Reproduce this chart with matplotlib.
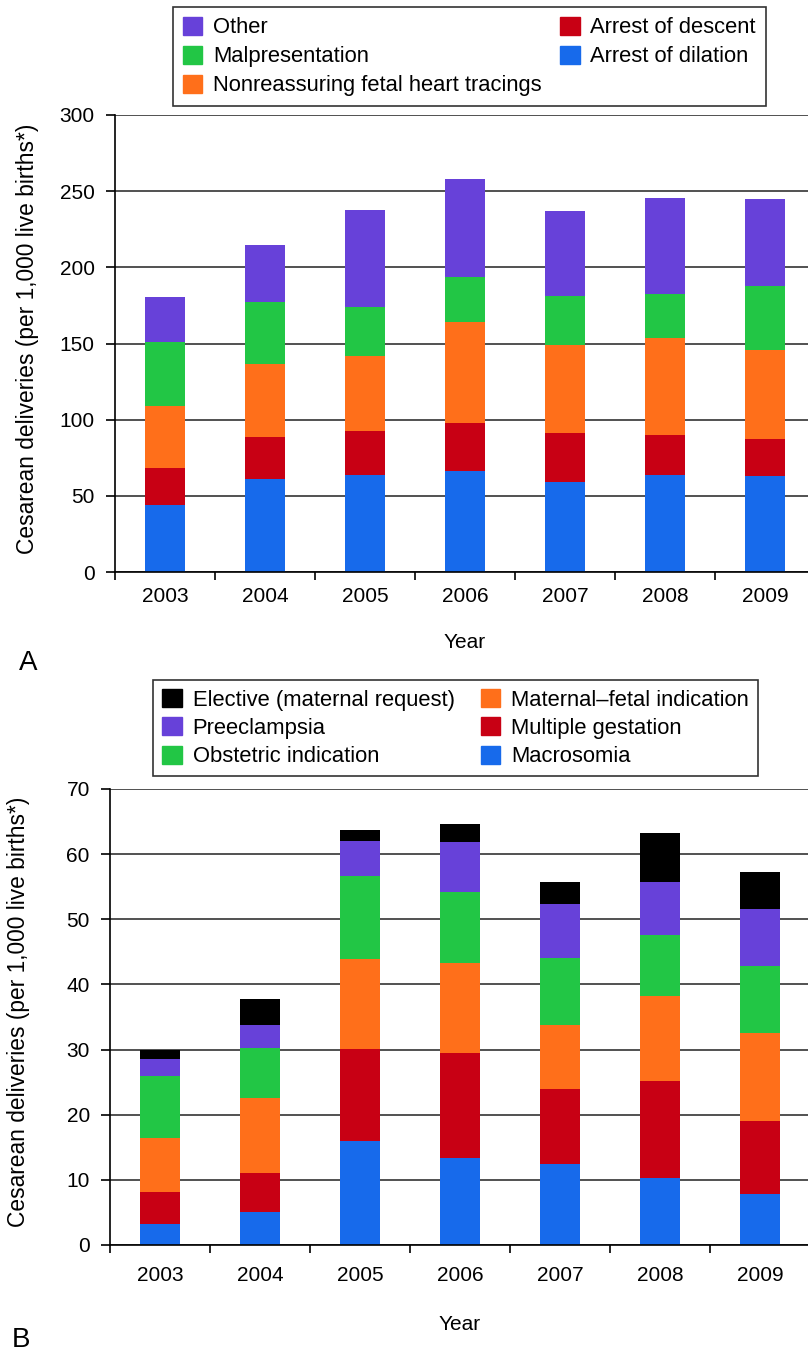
import numpy as np
import matplotlib
matplotlib.use('Agg')
import matplotlib.pyplot as plt
from matplotlib.patches import Patch

plt.rcParams['font.family'] = ['Liberation Sans', 'DejaVu Sans']

years = ['2003', '2004', '2005', '2006', '2007', '2008', '2009']

# Panel A – indications (per 1,000 live births)
arrest_dilation = [44.0, 61.3, 63.5, 66.3, 59.3, 63.5, 63.0]
arrest_descent = [24.5, 27.3, 28.8, 31.5, 31.7, 26.7, 24.1]
nonreassuring = [40.3, 47.9, 49.7, 66.5, 57.8, 63.6, 58.9]
malpresentation = [42.4, 40.5, 32.2, 29.4, 32.4, 28.7, 41.7]
other = [29.5, 37.7, 63.7, 64.3, 55.6, 63.0, 57.2]

# Panel B
macrosomia = [3.2, 5.0, 15.9, 13.4, 12.4, 10.3, 7.9]
multiple_gestation = [5.0, 6.0, 14.2, 16.1, 11.6, 14.8, 11.2]
maternal_fetal = [8.3, 11.5, 13.8, 13.8, 9.7, 13.1, 13.5]
obstetric = [9.4, 7.8, 12.8, 10.9, 10.4, 9.4, 10.3]
preeclampsia = [2.6, 3.4, 5.3, 7.7, 8.3, 8.1, 8.7]
elective = [1.5, 4.1, 1.7, 2.7, 3.4, 7.5, 5.6]

BLUE = '#176aeb'
RED = '#c80014'
ORANGE = '#ff6f1a'
GREEN = '#22c645'
PURPLE = '#6741d9'
BLACK = '#000000'

W, H = 808, 1355
fig = plt.figure(figsize=(W / 100, H / 100), dpi=100)

FS = 15       # tick labels / axis titles
LFS = 15.8    # legend text


def panel(rect, series, colors, ymax, ystep, xpad, xlabpad, ylab_xy):
    ax = fig.add_axes(rect)
    x = np.arange(len(years))
    bottom = np.zeros(len(years))
    for vals, c in zip(series, colors):
        ax.bar(x, vals, width=0.4, bottom=bottom, color=c, linewidth=0, zorder=2)
        bottom += np.array(vals)
    ax.set_xlim(-0.5, 6.5)
    ax.set_ylim(0, ymax)
    ax.set_yticks(np.arange(0, ymax + 1, ystep))
    ax.set_xticks(x)
    ax.set_xticklabels(years)
    ax.set_xticks(np.arange(-0.5, 6.6, 1), minor=True)
    ax.tick_params(axis='x', which='major', length=0, pad=xpad, labelsize=FS)
    ax.tick_params(axis='x', which='minor', length=5.8, width=1.2, direction='out')
    ax.tick_params(axis='y', length=6.5, width=1.2, pad=8, labelsize=FS)
    ax.yaxis.grid(True, color='#333333', linewidth=1.2, zorder=1)
    ax.set_axisbelow(True)
    for s in ['top', 'right']:
        ax.spines[s].set_visible(False)
    for s in ['left', 'bottom']:
        ax.spines[s].set_linewidth(1.2)
    ax.set_ylabel('Cesarean deliveries (per 1,000 live births*)', fontsize=16.4)
    ax.yaxis.set_label_coords(*ylab_xy)
    ax.set_xlabel('Year', fontsize=FS, labelpad=xlabpad)
    return ax


axA = panel([115 / W, 1 - 572 / H, 700 / W, 457 / H],
            [arrest_dilation, arrest_descent, nonreassuring, malpresentation, other],
            [BLUE, RED, ORANGE, GREEN, PURPLE], 300, 50, 10.5, 20, (-0.108, 0.51))

axB = panel([110 / W, 1 - 1245 / H, 700 / W, 456 / H],
            [macrosomia, multiple_gestation, maternal_fetal, obstetric, preeclampsia, elective],
            [BLUE, RED, ORANGE, GREEN, PURPLE, BLACK], 70, 10, 15, 22, (-0.115, 0.511))


def legend(handles, anchor, colspace, spacing, bpad):
    leg = fig.legend(handles=handles, loc='upper left', bbox_to_anchor=anchor,
                     ncol=2, fontsize=LFS, frameon=True, fancybox=False, borderaxespad=0,
                     handlelength=0.89, handleheight=0.89, handletextpad=0.5,
                     columnspacing=colspace, labelspacing=spacing, borderpad=bpad)
    leg.get_frame().set_edgecolor('black')
    leg.get_frame().set_linewidth(1.2)
    return leg


handlesA = [Patch(color=PURPLE, label='Other'),
            Patch(color=GREEN, label='Malpresentation'),
            Patch(color=ORANGE, label='Nonreassuring fetal heart tracings'),
            Patch(color=RED, label='Arrest of descent'),
            Patch(color=BLUE, label='Arrest of dilation')]
legend(handlesA, (173 / W, 1 - 7 / H), 0.82, 0.33, 0.45)

handlesB = [Patch(color=BLACK, label='Elective (maternal request)'),
            Patch(color=PURPLE, label='Preeclampsia'),
            Patch(color=GREEN, label='Obstetric indication'),
            Patch(color=ORANGE, label='Maternal\u2013fetal indication'),
            Patch(color=RED, label='Multiple gestation'),
            Patch(color=BLUE, label='Macrosomia')]
legend(handlesB, (153 / W, 1 - 680 / H), 1.19, 0.3, 0.42)

fig.text(28 / W, 1 - 663 / H, 'A', fontsize=20, ha='center', va='center')
fig.text(21 / W, 1 - 1340 / H, 'B', fontsize=20, ha='center', va='center')

fig.savefig('out.png', dpi=100)
